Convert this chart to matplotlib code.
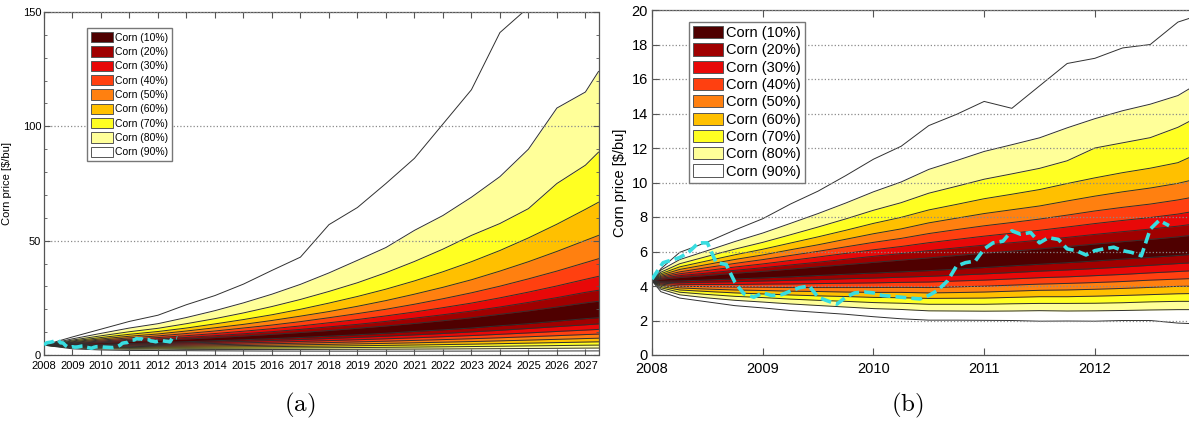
import matplotlib
matplotlib.use("Agg")
import matplotlib.pyplot as plt
from matplotlib.patches import Patch
from matplotlib.ticker import MultipleLocator

plt.rcParams['font.family'] = ['Liberation Sans', 'DejaVu Sans']
plt.rcParams['mathtext.fontset'] = 'cm'

# ---- panel (a): 2008-2027 simulation quantiles ----
years_a = [2008, 2009, 2010, 2011, 2012, 2013, 2014, 2015, 2016, 2017, 2018,
           2019, 2020, 2021, 2022, 2023, 2024, 2025, 2026, 2027, 2027.46]
q95_a = [4.3, 7.9, 11.3, 14.7, 17.4, 22.0, 26.0, 31.0, 37.0, 42.8, 57.0, 64.5, 75.0, 86.0, 101.0, 116.0, 141.0, 152.0, 176.0, 200.0, 212.0]
q90_a = [4.3, 7.07, 9.46, 11.8, 13.7, 16.4, 19.4, 22.8, 26.6, 30.9, 35.9, 41.4, 47.0, 54.5, 61.0, 69.0, 78.0, 90.0, 108.0, 115.0, 124.0]
q85_a = [4.3, 6.53, 8.39, 10.19, 11.67, 13.7, 15.9, 18.4, 21.2, 24.3, 27.8, 31.6, 36.0, 40.9, 46.3, 52.3, 57.5, 64.0, 75.0, 83.0, 88.7]
q80_a = [4.3, 6.13, 7.63, 9.06, 10.27, 11.8, 13.6, 15.5, 17.6, 20.0, 22.7, 25.6, 28.8, 32.4, 36.4, 40.8, 45.7, 51.2, 57.2, 63.7, 66.8]
q75_a = [4.3, 5.80, 7.03, 8.20, 9.21, 10.5, 11.9, 13.4, 15.1, 17.0, 19.0, 21.3, 23.8, 26.6, 29.6, 32.9, 36.7, 40.8, 45.3, 50.1, 52.3]
q70_a = [4.3, 5.53, 6.53, 7.49, 8.35, 9.4, 10.5, 11.8, 13.1, 14.6, 16.3, 18.1, 20.0, 22.2, 24.6, 27.2, 30.1, 33.3, 36.7, 40.4, 42.1]
q65_a = [4.3, 5.28, 6.10, 6.89, 7.62, 8.45, 9.39, 10.4, 11.5, 12.7, 14.1, 15.5, 17.1, 18.8, 20.7, 22.7, 25.0, 27.5, 30.2, 33.1, 34.4]
q60_a = [4.3, 5.06, 5.72, 6.37, 6.99, 7.67, 8.44, 9.28, 10.2, 11.2, 12.3, 13.4, 14.7, 16.1, 17.6, 19.2, 21.0, 23.0, 25.1, 27.4, 28.3]
q55_a = [4.3, 4.85, 5.37, 5.90, 6.43, 6.98, 7.62, 8.30, 9.04, 9.85, 10.7, 11.7, 12.7, 13.8, 15.0, 16.3, 17.8, 19.3, 21.0, 22.8, 23.5]
q45_a = [4.3, 4.47, 4.75, 5.07, 5.45, 5.80, 6.22, 6.67, 7.15, 7.68, 8.25, 8.86, 9.53, 10.3, 11.0, 11.8, 12.8, 13.7, 14.8, 15.9, 16.3]
q40_a = [4.3, 4.29, 4.46, 4.70, 5.01, 5.28, 5.61, 5.96, 6.35, 6.77, 7.22, 7.71, 8.24, 8.80, 9.41, 10.1, 10.8, 11.6, 12.4, 13.2, 13.6]
q35_a = [4.3, 4.11, 4.18, 4.34, 4.60, 4.79, 5.04, 5.31, 5.61, 5.94, 6.29, 6.67, 7.08, 7.52, 8.00, 8.50, 9.05, 9.65, 10.3, 10.9, 11.2]
q30_a = [4.3, 3.93, 3.91, 3.99, 4.20, 4.32, 4.50, 4.71, 4.93, 5.18, 5.44, 5.73, 6.04, 6.38, 6.73, 7.11, 7.53, 7.98, 8.45, 8.94, 9.13]
q25_a = [4.3, 3.74, 3.63, 3.65, 3.81, 3.87, 3.99, 4.13, 4.28, 4.46, 4.65, 4.86, 5.09, 5.33, 5.60, 5.87, 6.18, 6.51, 6.85, 7.20, 7.34]
q20_a = [4.3, 3.54, 3.34, 3.30, 3.41, 3.42, 3.49, 3.57, 3.67, 3.78, 3.91, 4.05, 4.20, 4.37, 4.55, 4.74, 4.96, 5.19, 5.42, 5.66, 5.76]
q15_a = [4.3, 3.33, 3.04, 2.94, 3.00, 2.96, 2.98, 3.01, 3.06, 3.12, 3.19, 3.27, 3.36, 3.47, 3.58, 3.70, 3.83, 3.98, 4.12, 4.28, 4.33]
q10_a = [4.3, 3.07, 2.69, 2.54, 2.56, 2.47, 2.44, 2.43, 2.43, 2.45, 2.47, 2.50, 2.54, 2.59, 2.64, 2.70, 2.77, 2.85, 2.93, 3.01, 3.03]
q05_a = [4.3, 2.70, 2.20, 2.00, 1.95, 1.89, 1.82, 1.77, 1.73, 1.71, 1.69, 1.68, 1.68, 1.68, 1.69, 1.70, 1.72, 1.74, 1.76, 1.78, 1.79]

# ---- panel (b): 2008-2012 zoom ----
years_b = [2008.0, 2008.08, 2008.25, 2008.5, 2008.75, 2009.0, 2009.25, 2009.5, 2009.75, 2010.0, 2010.25,
           2010.5, 2010.75, 2011.0, 2011.25, 2011.5, 2011.75, 2012.0, 2012.25, 2012.5, 2012.75, 2012.87]
q95_b = [4.3, 5.0, 5.95, 6.55, 7.25, 7.9, 8.75, 9.5, 10.4, 11.35, 12.1, 13.3, 13.95, 14.7, 14.3, 15.6, 16.9, 17.2, 17.8, 18.0, 19.3, 19.55]
q90_b = [4.3, 4.92, 5.53, 6.05, 6.58, 7.07, 7.63, 8.20, 8.81, 9.46, 10.03, 10.76, 11.27, 11.80, 12.19, 12.59, 13.17, 13.70, 14.16, 14.54, 15.04, 15.50]
q85_b = [4.3, 4.80, 5.29, 5.72, 6.14, 6.53, 6.97, 7.42, 7.89, 8.39, 8.83, 9.38, 9.78, 10.19, 10.50, 10.82, 11.26, 12.0, 12.3, 12.6, 13.2, 13.6]
q80_b = [4.3, 4.71, 5.11, 5.46, 5.81, 6.13, 6.49, 6.85, 7.23, 7.63, 7.98, 8.41, 8.73, 9.06, 9.32, 9.59, 9.94, 10.27, 10.57, 10.83, 11.15, 11.5]
q75_b = [4.3, 4.63, 4.96, 5.25, 5.54, 5.80, 6.10, 6.39, 6.71, 7.03, 7.31, 7.66, 7.93, 8.20, 8.42, 8.64, 8.93, 9.21, 9.46, 9.68, 9.95, 10.13]
q70_b = [4.3, 4.56, 4.82, 5.07, 5.31, 5.53, 5.77, 6.01, 6.27, 6.53, 6.76, 7.04, 7.27, 7.49, 7.68, 7.88, 8.11, 8.35, 8.56, 8.75, 8.99, 9.13]
q65_b = [4.3, 4.50, 4.71, 4.90, 5.10, 5.28, 5.48, 5.68, 5.89, 6.10, 6.29, 6.51, 6.70, 6.89, 7.06, 7.23, 7.42, 7.62, 7.80, 7.97, 8.17, 8.30]
q60_b = [4.3, 4.44, 4.60, 4.75, 4.91, 5.06, 5.22, 5.38, 5.55, 5.72, 5.88, 6.05, 6.21, 6.37, 6.51, 6.66, 6.82, 6.99, 7.15, 7.30, 7.47, 7.57]
q55_b = [4.3, 4.39, 4.49, 4.61, 4.74, 4.85, 4.98, 5.11, 5.24, 5.37, 5.50, 5.63, 5.77, 5.90, 6.02, 6.15, 6.29, 6.43, 6.57, 6.70, 6.85, 6.94]
q45_b = [4.3, 4.28, 4.29, 4.35, 4.41, 4.47, 4.53, 4.61, 4.68, 4.75, 4.82, 4.89, 4.98, 5.07, 5.17, 5.26, 5.35, 5.45, 5.56, 5.66, 5.77, 5.83]
q40_b = [4.3, 4.22, 4.19, 4.22, 4.25, 4.29, 4.33, 4.37, 4.42, 4.46, 4.51, 4.56, 4.63, 4.70, 4.78, 4.86, 4.93, 5.01, 5.10, 5.20, 5.30, 5.34]
q35_b = [4.3, 4.17, 4.10, 4.09, 4.09, 4.11, 4.12, 4.14, 4.16, 4.18, 4.21, 4.23, 4.29, 4.34, 4.41, 4.48, 4.53, 4.60, 4.67, 4.76, 4.84, 4.88]
q30_b = [4.3, 4.11, 3.99, 3.96, 3.94, 3.93, 3.91, 3.91, 3.91, 3.91, 3.92, 3.91, 3.95, 3.99, 4.05, 4.11, 4.15, 4.20, 4.26, 4.34, 4.40, 4.43]
q25_b = [4.3, 4.05, 3.89, 3.82, 3.77, 3.74, 3.70, 3.68, 3.65, 3.63, 3.63, 3.60, 3.62, 3.65, 3.70, 3.75, 3.77, 3.81, 3.86, 3.92, 3.98, 3.99]
q20_b = [4.3, 3.98, 3.77, 3.68, 3.60, 3.54, 3.48, 3.43, 3.39, 3.34, 3.32, 3.28, 3.29, 3.30, 3.34, 3.38, 3.38, 3.41, 3.45, 3.50, 3.55, 3.56]
q15_b = [4.3, 3.90, 3.64, 3.51, 3.40, 3.33, 3.24, 3.17, 3.11, 3.04, 3.00, 2.94, 2.94, 2.94, 2.97, 2.99, 2.99, 3.00, 3.03, 3.08, 3.11, 3.11]
q10_b = [4.3, 3.81, 3.49, 3.31, 3.17, 3.07, 2.96, 2.87, 2.78, 2.69, 2.64, 2.56, 2.55, 2.54, 2.55, 2.57, 2.55, 2.56, 2.58, 2.61, 2.63, 2.63]
q05_b = [4.3, 3.67, 3.30, 3.08, 2.86, 2.73, 2.58, 2.47, 2.36, 2.22, 2.10, 2.02, 2.02, 2.01, 2.00, 1.96, 1.97, 1.96, 2.00, 2.00, 1.85, 1.82]

# observed corn price (cyan dashed)
price_yr = [2008.0, 2008.1, 2008.25, 2008.33, 2008.42, 2008.5, 2008.58, 2008.67, 2008.75, 2008.83, 2008.92,
            2009.0, 2009.08, 2009.17, 2009.33, 2009.42, 2009.5, 2009.58, 2009.67, 2009.75, 2009.83, 2009.92,
            2010.0, 2010.08, 2010.17, 2010.33, 2010.42, 2010.5, 2010.58, 2010.67, 2010.75, 2010.83, 2010.92,
            2011.0, 2011.08, 2011.17, 2011.25, 2011.33, 2011.42, 2011.5, 2011.58, 2011.67, 2011.75, 2011.83, 2011.92,
            2012.0, 2012.08, 2012.17, 2012.25, 2012.33, 2012.42, 2012.5, 2012.58, 2012.67]
price = [4.4, 5.35, 5.65, 5.95, 6.5, 6.5, 5.35, 5.25, 4.2, 3.55, 3.35,
         3.6, 3.45, 3.5, 3.9, 4.0, 3.35, 3.15, 2.95, 3.35, 3.6, 3.65,
         3.6, 3.45, 3.4, 3.3, 3.25, 3.45, 3.75, 4.3, 5.15, 5.35, 5.45,
         6.15, 6.5, 6.6, 7.2, 7.0, 7.1, 6.5, 6.8, 6.7, 6.15, 6.05, 5.8,
         6.05, 6.15, 6.25, 6.05, 5.95, 5.75, 7.3, 7.8, 7.5]

band_pct = [10, 20, 30, 40, 50, 60, 70, 80, 90]
band_colors = ['#4f0000', '#a00000', '#e80808', '#ff4010', '#ff8010', '#ffc000', '#ffff22', '#ffff99', '#ffffff']


def fan(ax, x, lows, highs):
    # outer band first, inner last
    for lo, hi, c in reversed(list(zip(lows, highs, band_colors))):
        ax.fill_between(x, lo, hi, color=c, lw=0, zorder=1)
    for q in lows + highs:
        ax.plot(x, q, color='#303030', lw=0.7, zorder=2)


fig = plt.figure(figsize=(11.89, 4.25), dpi=100)
ax1 = fig.add_axes([44/1189, 70/425, 554.5/1189, 343/425])
ax2 = fig.add_axes([652/1189, 70/425, 537/1189, 345/425])

fan(ax1, years_a,
    [q45_a, q40_a, q35_a, q30_a, q25_a, q20_a, q15_a, q10_a, q05_a],
    [q55_a, q60_a, q65_a, q70_a, q75_a, q80_a, q85_a, q90_a, q95_a])
fan(ax2, years_b,
    [q45_b, q40_b, q35_b, q30_b, q25_b, q20_b, q15_b, q10_b, q05_b],
    [q55_b, q60_b, q65_b, q70_b, q75_b, q80_b, q85_b, q90_b, q95_b])

for ax in (ax1, ax2):
    ax.plot(price_yr, price, color='#38dde0', lw=2.6, ls=(0, (3, 1.4)), zorder=4)
    ax.yaxis.grid(True, ls=':', color='#8a8a8a', lw=0.9)
    ax.set_axisbelow(False)
    for s in ax.spines.values():
        s.set_color('#555555')
        s.set_linewidth(0.9)

# panel (a) axes
ax1.set_xlim(2008, 2027.46)
ax1.set_ylim(0, 150)
ax1.set_xticks(range(2008, 2028))
ax1.set_yticks([0, 50, 100, 150])
ax1.yaxis.set_minor_locator(MultipleLocator(10))
ax1.tick_params(direction='in', top=True, right=True, labelsize=8, length=4, color='#555555', pad=2)
ax1.tick_params(axis='x', pad=4)
ax1.tick_params(which='minor', direction='in', right=True, length=2, color='#555555')
ax1.set_ylabel('Corn price [\\$/bu]', fontsize=8, labelpad=8)

# panel (b) axes
ax2.set_xlim(2008, 2012.85)
ax2.set_ylim(0, 20)
ax2.set_xticks(range(2008, 2013))
ax2.set_yticks(range(0, 21, 2))
ax2.spines['right'].set_visible(False)
ax2.tick_params(direction='in', top=True, labelsize=10.5, length=5, color='#555555', pad=3)
ax2.tick_params(axis='x', pad=5)
ax2.set_ylabel('Corn price [\\$/bu]', fontsize=10.5, labelpad=3)

handles = [Patch(facecolor=c, edgecolor='#555555', lw=0.7, label='Corn (%d%%)' % p)
           for p, c in zip(band_pct, band_colors)]
ax1.legend(handles=handles, loc='upper left', bbox_to_anchor=(0.078, 0.9525), fontsize=7.5,
           handlelength=2.1, handleheight=1.15, labelspacing=0.35, handletextpad=0.25,
           borderpad=0.35, borderaxespad=0, fancybox=False, framealpha=1, edgecolor='#777777')
ax2.legend(handles=handles, loc='upper left', bbox_to_anchor=(0.069, 0.966), fontsize=10.5,
           handlelength=2.0, handleheight=0.9, labelspacing=0.22, handletextpad=0.2,
           borderpad=0.3, borderaxespad=0, fancybox=False, framealpha=1, edgecolor='#777777')

fig.text(300/1189, 0.045, r'$\mathrm{(a)}$', fontsize=18, ha='center', va='center')
fig.text(907/1189, 0.045, r'$\mathrm{(b)}$', fontsize=18, ha='center', va='center')

fig.savefig('out.png', dpi=100)
